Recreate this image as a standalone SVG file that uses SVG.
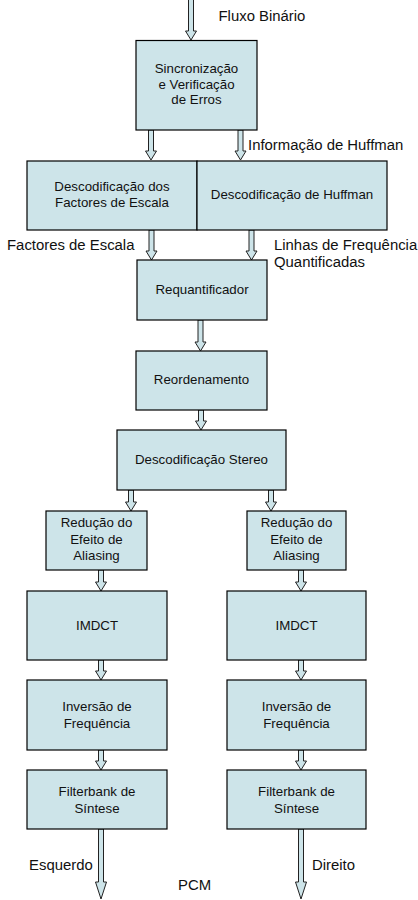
<svg xmlns="http://www.w3.org/2000/svg" width="418" height="900" viewBox="0 0 418 900">
<style>
.box{fill:#cde4e9;stroke:#000;stroke-width:1.2}
.arr{fill:#cde4e9;stroke:#222;stroke-width:1}
.t{font-family:"Liberation Sans",Arial,sans-serif;font-size:13.3px;fill:#111;text-anchor:middle}
.l{font-family:"Liberation Sans",Arial,sans-serif;font-size:14.9px;fill:#111}
</style>
<rect width="418" height="900" fill="#fff"/>
<g id="connectors">
<polygon class="arr" points="188.5,-1 193.5,-1 193.5,31 196.5,31 191,40 185.5,31 188.5,31"/>
<polygon class="arr" points="148.5,130 153.5,130 153.5,151 156.5,151 151,160 145.5,151 148.5,151"/>
<polygon class="arr" points="238,130 243,130 243,151 246,151 240.5,160 235,151 238,151"/>
<polygon class="arr" points="149,230 154,230 154,251 157,251 151.5,260 146,251 149,251"/>
<polygon class="arr" points="249,230 254,230 254,251 257,251 251.5,260 246,251 249,251"/>
<polygon class="arr" points="198,320 203,320 203,342 206,342 200.5,351 195,342 198,342"/>
<polygon class="arr" points="198.5,410 203.5,410 203.5,421 206.5,421 201,430 195.5,421 198.5,421"/>
<polygon class="arr" points="128.5,490 133.5,490 133.5,502 136.5,502 131,511 125.5,502 128.5,502"/>
<polygon class="arr" points="268.5,490 273.5,490 273.5,502 276.5,502 271,511 265.5,502 268.5,502"/>
<polygon class="arr" points="98.5,570 103.5,570 103.5,582 106.5,582 101,591 95.5,582 98.5,582"/>
<polygon class="arr" points="298.5,570 303.5,570 303.5,582 306.5,582 301,591 295.5,582 298.5,582"/>
<polygon class="arr" points="98.5,660 103.5,660 103.5,671 106.5,671 101,680 95.5,671 98.5,671"/>
<polygon class="arr" points="298.5,660 303.5,660 303.5,671 306.5,671 301,680 295.5,671 298.5,671"/>
<polygon class="arr" points="98.5,750 103.5,750 103.5,761 106.5,761 101,770 95.5,761 98.5,761"/>
<polygon class="arr" points="298.5,750 303.5,750 303.5,761 306.5,761 301,770 295.5,761 298.5,761"/>
<polygon class="arr" points="98.5,829 103.5,829 103.5,882 106.5,882 101,899 95.5,882 98.5,882"/>
<polygon class="arr" points="298.5,829 303.5,829 303.5,882 306.5,882 301,899 295.5,882 298.5,882"/>
</g>
<g id="sync">
<rect class="box" x="136" y="40.5" width="121" height="89.5"/>
<text class="t" x="196.5" y="73">Sincronização</text>
<text class="t" x="196.5" y="88.5">e Verificação</text>
<text class="t" x="196.5" y="104">de Erros</text>
</g>
<g id="scalefactors">
<rect class="box" x="27" y="161" width="170" height="69"/>
<text class="t" x="112" y="191">Descodificação dos</text>
<text class="t" x="112" y="207">Factores de Escala</text>
</g>
<g id="huffman">
<rect class="box" x="197" y="161" width="190" height="69"/>
<text class="t" x="292" y="199">Descodificação de Huffman</text>
</g>
<g id="requant">
<rect class="box" x="137" y="260" width="130" height="60"/>
<text class="t" x="202" y="294">Requantificador</text>
</g>
<g id="reorder">
<rect class="box" x="136" y="351" width="131" height="59"/>
<text class="t" x="201.5" y="384">Reordenamento</text>
</g>
<g id="stereo">
<rect class="box" x="117" y="430" width="169" height="60"/>
<text class="t" x="201.5" y="464">Descodificação Stereo</text>
</g>
<g id="alias-l">
<rect class="box" x="46" y="511" width="101" height="59"/>
<text class="t" x="96.5" y="527">Redução do</text>
<text class="t" x="96.5" y="543.5">Efeito de</text>
<text class="t" x="96.5" y="560">Aliasing</text>
</g>
<g id="alias-r">
<rect class="box" x="247" y="511" width="99" height="59"/>
<text class="t" x="296.5" y="527">Redução do</text>
<text class="t" x="296.5" y="543.5">Efeito de</text>
<text class="t" x="296.5" y="560">Aliasing</text>
</g>
<g id="imdct-l">
<rect class="box" x="27" y="591" width="140" height="69"/>
<text class="t" x="97" y="630">IMDCT</text>
</g>
<g id="imdct-r">
<rect class="box" x="227" y="591" width="139" height="69"/>
<text class="t" x="296.5" y="630">IMDCT</text>
</g>
<g id="inv-l">
<rect class="box" x="27" y="680" width="140" height="70"/>
<text class="t" x="97" y="711">Inversão de</text>
<text class="t" x="97" y="727.5">Frequência</text>
</g>
<g id="inv-r">
<rect class="box" x="227" y="680" width="139" height="70"/>
<text class="t" x="296.5" y="711">Inversão de</text>
<text class="t" x="296.5" y="727.5">Frequência</text>
</g>
<g id="fb-l">
<rect class="box" x="27" y="770" width="140" height="59"/>
<text class="t" x="97" y="796">Filterbank de</text>
<text class="t" x="97" y="812.5">Síntese</text>
</g>
<g id="fb-r">
<rect class="box" x="227" y="770" width="139" height="59"/>
<text class="t" x="296.5" y="796">Filterbank de</text>
<text class="t" x="296.5" y="812.5">Síntese</text>
</g>
<g id="labels">
<text class="l" x="218.5" y="20.5">Fluxo Binário</text>
<text class="l" x="248" y="149.5">Informação de Huffman</text>
<text class="l" x="7" y="249.5">Factores de Escala</text>
<text class="l" x="274" y="249.5">Linhas de Frequência</text>
<text class="l" x="274" y="267">Quantificadas</text>
<text class="l" x="29" y="870">Esquerdo</text>
<text class="l" x="312" y="870">Direito</text>
<text class="l" x="178" y="890">PCM</text>
</g>
</svg>
